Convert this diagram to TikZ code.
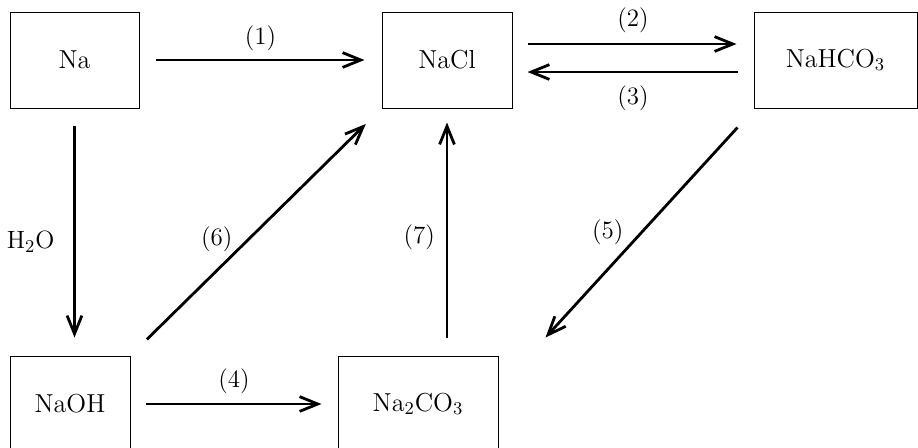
\documentclass[tikz,border=0pt]{standalone}
\usetikzlibrary{arrows.meta,calc}
\tikzset{
  >={Straight Barb[length=3.2mm,width=2.6mm]},
  box/.style={draw,line width=0.5pt,inner sep=2pt,minimum height=48pt,font=\fontsize{13}{15}\selectfont},
  arr/.style={->,line width=1.4pt},
  lab/.style={font=\fontsize{12.5}{14}\selectfont},
}
\begin{document}
\begin{tikzpicture}[x=0.5pt,y=-0.5pt]
\clip (0,0) rectangle (918,447);
\node[box,minimum width=64.5pt] (na) at (74.5,60) {Na};
\node[box,minimum width=65pt] (nacl) at (447,60) {NaCl};
\node[box,minimum width=81.5pt] (nahco) at (835.5,60) {NaHCO$_3$};
\node[box,minimum width=60pt] (naoh) at (70,404) {NaOH};
\node[box,minimum width=80pt] (naco) at (418,404) {Na$_2$CO$_3$};
\draw[arr,shorten <=8pt,shorten >=8.5pt] (na) -- (nacl) node[lab,midway,above=0.5pt] {(1)};
\draw[arr,shorten <=7.5pt,shorten >=8.5pt] ([yshift=8pt]nacl.east) -- ([yshift=8pt]nahco.west) node[lab,midway,above=1.5pt] {(2)};
\draw[arr,shorten <=8pt,shorten >=7.5pt] ([yshift=-6pt]nahco.west) -- ([yshift=-6pt]nacl.east) node[lab,midway,below=3pt] {(3)};
\draw[arr,shorten <=8.5pt,shorten >=9pt] (na.south) -- (na.south |- naoh.north) node[lab,pos=0.54,left=6pt] {H$_2$O};
\draw[arr,shorten <=7.5pt,shorten >=8pt] (naoh) -- (naco) node[lab,midway,above=1pt] {(4)};
\draw[arr] ([xshift=-8pt,yshift=-9.5pt]nahco.south west) -- ([xshift=23.5pt,yshift=9pt]naco.north east) node[lab,pos=0.5,left=5pt] {(5)};
\draw[arr,shorten <=11.5pt,shorten >=11pt] (naoh.north east) -- (nacl.south west) node[lab,pos=0.47,left=4pt] {(6)};
\draw[arr,shorten <=9pt,shorten >=7pt] (nacl.south |- naco.north) -- (nacl.south) node[lab,pos=0.48,left=2pt] {(7)};
\end{tikzpicture}
\end{document}
